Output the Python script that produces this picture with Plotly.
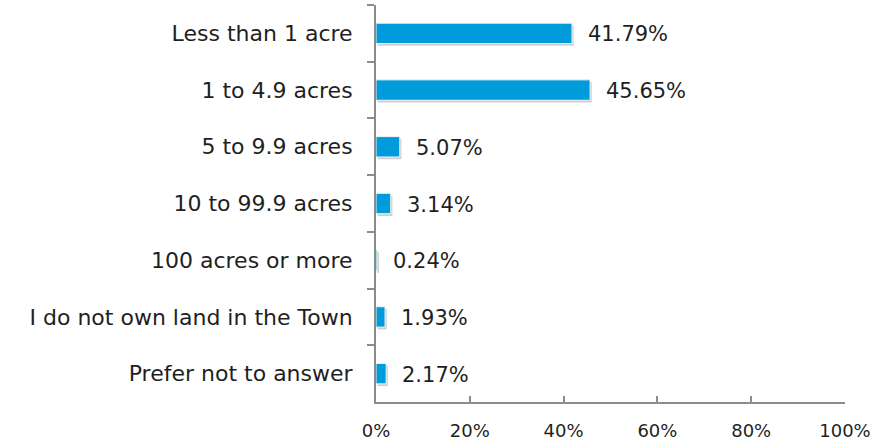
import plotly.graph_objects as go

categories = ["Less than 1 acre", "1 to 4.9 acres", "5 to 9.9 acres", "10 to 99.9 acres",
              "100 acres or more", "I do not own land in the Town", "Prefer not to answer"]
values = [41.79, 45.65, 5.07, 3.14, 0.24, 1.93, 2.17]
tick_vals = [0, 20, 40, 60, 80, 100]
tick_text = ["0%", "20%", "40%", "60%", "80%", "100%"]

FONT = "DejaVu Sans"
TXT = "#1f1f1f"
fig = go.Figure()
# soft shadow behind bars
fig.add_trace(go.Bar(
    x=values, y=categories, orientation="h", base=0.35,
    marker=dict(color="#cfcfcf", line=dict(width=0)),
    width=0.36, offset=-0.14, hoverinfo="skip",
))
fig.add_trace(go.Bar(
    x=values, y=categories, orientation="h",
    marker=dict(color="#009BDB", line=dict(color="#f4f4f4", width=1)),
    width=0.36, offset=-0.18, hoverinfo="skip",
))
for c, v in zip(categories, values):
    fig.add_annotation(x=v, y=c, text=f"{v:.2f}%", showarrow=False, xanchor="left",
                       xshift=14, yshift=-1, font=dict(family=FONT, size=21, color=TXT))

fig.update_layout(
    width=871, height=445,
    margin=dict(l=376, r=26, t=5, b=43, autoexpand=False),
    plot_bgcolor="white", paper_bgcolor="white",
    showlegend=False, barmode="overlay",
    font=dict(family=FONT, size=21, color=TXT),
)
fig.update_xaxes(range=[0, 100], tickvals=tick_vals, ticktext=tick_text, showgrid=False,
                 zeroline=False, showline=True, linecolor="#8c8c8c", linewidth=2,
                 ticks="inside", ticklen=6, tickcolor="#8c8c8c", tickwidth=2,
                 ticklabelstandoff=11, automargin=False,
                 tickfont=dict(family=FONT, size=18, color=TXT))
fig.update_yaxes(autorange="reversed", showgrid=False, showline=True, linecolor="#8c8c8c",
                 linewidth=2, ticks="outside", tickson="boundaries", ticklen=7,
                 tickcolor="#8c8c8c", tickwidth=2, ticklabelstandoff=17, automargin=False,
                 tickfont=dict(family=FONT, size=22, color=TXT))
fig.write_html("out.html", config={"displayModeBar": False},
               post_script="document.body.style.margin='0';")
